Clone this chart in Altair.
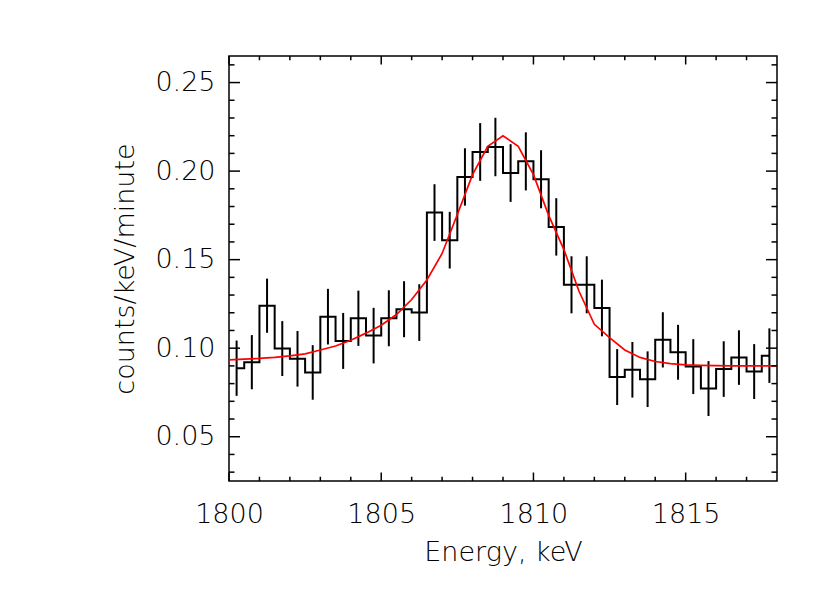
import altair as alt
import pandas as pd

# ---- data ----
bin_centers = [1800.25 + 0.5 * i for i in range(36)]
rate = [0.0887, 0.0921, 0.1240, 0.0998, 0.0940, 0.0863, 0.1178, 0.1041, 0.1169,
        0.1071, 0.1169, 0.1220, 0.1201, 0.1766, 0.1610, 0.1967, 0.2108, 0.2136,
        0.1989, 0.2055, 0.1954, 0.1685, 0.1358, 0.1358, 0.1227, 0.0837, 0.0878,
        0.0825, 0.1047, 0.0977, 0.0896, 0.0772, 0.0882, 0.0947, 0.0868, 0.0958]
err = [0.0156, 0.0153, 0.0153, 0.0155, 0.0157, 0.0154, 0.0157, 0.0158, 0.0156,
       0.0157, 0.0158, 0.0158, 0.0160, 0.0160, 0.0160, 0.0162, 0.0163, 0.0165,
       0.0163, 0.0164, 0.0164, 0.0162, 0.0161, 0.0161, 0.0160, 0.0158, 0.0157,
       0.0157, 0.0156, 0.0155, 0.0155, 0.0155, 0.0157, 0.0154, 0.0155, 0.0154]

fit_energy = [1800 + 0.5 * i for i in range(37)]
fit_rate = [0.0934, 0.0938, 0.0942, 0.0948, 0.0957, 0.0968, 0.0990, 0.1012, 0.1045,
            0.1085, 0.1130, 0.1190, 0.1275, 0.1385, 0.1535, 0.1755, 0.1980, 0.2140,
            0.2200, 0.2140, 0.1980, 0.1750, 0.1557, 0.1320, 0.1135, 0.1060, 0.0990,
            0.0948, 0.0925, 0.0913, 0.0906, 0.0903, 0.0901, 0.0900, 0.0900, 0.0900,
            0.0900]

x_major = [1800, 1805, 1810, 1815]
x_minor = [1801, 1802, 1803, 1804, 1806, 1807, 1808, 1809, 1811, 1812, 1813, 1814, 1816, 1817]
y_major = [0.05, 0.10, 0.15, 0.20, 0.25]
y_minor = [0.03, 0.04, 0.06, 0.07, 0.08, 0.09, 0.11, 0.12, 0.13, 0.14, 0.16, 0.17,
           0.18, 0.19, 0.21, 0.22, 0.23, 0.24, 0.26]

W, H = 548, 425
FONT = "DejaVu Sans"

hist_df = pd.DataFrame({"E": bin_centers, "rate": rate, "err": err})
hist_df["lo"] = hist_df["rate"] - hist_df["err"]
hist_df["hi"] = hist_df["rate"] + hist_df["err"]
fit_df = pd.DataFrame({"E": fit_energy, "rate": fit_rate})
xmaj_df = pd.DataFrame({"E": x_major})
xmin_df = pd.DataFrame({"E": x_minor})
ymaj_df = pd.DataFrame({"rate": y_major})
ymin_df = pd.DataFrame({"rate": y_minor})

xs = alt.Scale(domain=[1800, 1818], nice=False, zero=False)
ys = alt.Scale(domain=[0.025, 0.265], nice=False, zero=False)

hist = alt.Chart(hist_df).mark_line(interpolate="step", color="black", strokeWidth=2).encode(
    x=alt.X("E:Q", scale=xs,
            axis=alt.Axis(values=x_major, format="d", labelPadding=20, labelFlush=False,
                          title="Energy, keV", titleY=79, titleBaseline="alphabetic")),
    y=alt.Y("rate:Q", scale=ys,
            axis=alt.Axis(values=y_major, format=".2f", labelPadding=14, labelFlush=False,
                          title="counts/keV/minute", titleX=-104, titleY=H / 2,
                          titleBaseline="middle")),
)

errs = alt.Chart(hist_df).mark_rule(color="black", strokeWidth=2).encode(
    x=alt.X("E:Q", scale=xs), y=alt.Y("lo:Q", scale=ys), y2="hi:Q")

fit = alt.Chart(fit_df).mark_line(color="red", strokeWidth=1.7).encode(
    x=alt.X("E:Q", scale=xs), y=alt.Y("rate:Q", scale=ys))

TW = 1.5
XMAJ, XMIN = 8.5, 4.25
YMAJ, YMIN = 11, 5.5

def xticks(df, L):
    bottom = alt.Chart(df).mark_rule(color="black", strokeWidth=TW).encode(
        x=alt.X("E:Q", scale=xs), y=alt.value(H), y2=alt.value(H - L))
    top = alt.Chart(df).mark_rule(color="black", strokeWidth=TW).encode(
        x=alt.X("E:Q", scale=xs), y=alt.value(0), y2=alt.value(L))
    return [bottom, top]

def yticks(df, L):
    left = alt.Chart(df).mark_rule(color="black", strokeWidth=TW).encode(
        y=alt.Y("rate:Q", scale=ys), x=alt.value(0), x2=alt.value(L))
    right = alt.Chart(df).mark_rule(color="black", strokeWidth=TW).encode(
        y=alt.Y("rate:Q", scale=ys), x=alt.value(W), x2=alt.value(W - L))
    return [left, right]

layers = [hist, errs, fit] + xticks(xmaj_df, XMAJ) + xticks(xmin_df, XMIN) \
    + yticks(ymaj_df, YMAJ) + yticks(ymin_df, YMIN)

chart = alt.layer(*layers).properties(
    width=W, height=H,
    padding={"left": 221, "top": 48, "right": 45, "bottom": 104},
    autosize=alt.AutoSizeParams(type="none"),
    background="white",
).configure_view(
    stroke="black", strokeWidth=1.5
).configure_axis(
    grid=False, ticks=False, domain=False,
    labelFont=FONT, labelFontSize=27, labelColor="black", labelFontWeight=300,
    titleFont=FONT, titleFontSize=27, titleFontWeight=300, titleColor="black",
)

chart.save("out.html", embed_options={"renderer": "svg", "actions": False})
